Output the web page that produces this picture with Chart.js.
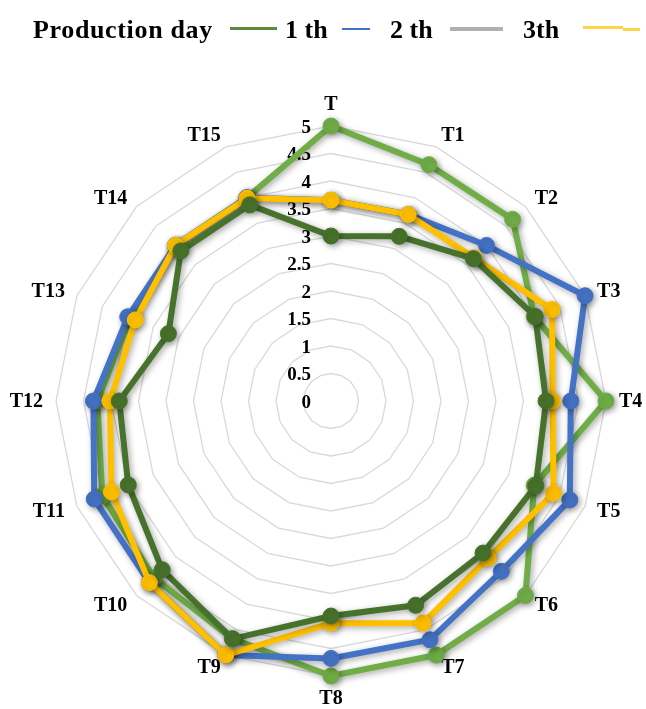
<!DOCTYPE html>
<html>
<head>
<meta charset="utf-8">
<script src="https://cdn.jsdelivr.net/npm/chart.js@4"></script>
<style>
  html, body { margin: 0; padding: 0; background: #fff; overflow: hidden; }
  #wrap { position: relative; width: 646px; height: 709px; }
  #chart { position: absolute; left: 0; top: 0; }
  .lg-text {
    position: absolute; top: 15px; line-height: 26px; white-space: nowrap;
    font: bold 26px "Liberation Serif", "Times New Roman", serif; color: #000;
  }
  .lg-sw { position: absolute; }
</style>
</head>
<body>
<div id="wrap">
  <canvas id="chart" width="646" height="709"></canvas>
  <span class="lg-text" style="left:33px; letter-spacing:0.65px">Production day</span>
  <span class="lg-sw" style="left:230px; top:27px; width:47px; height:3px; background:#5a8a3a"></span>
  <span class="lg-text" style="left:285px">1 th</span>
  <span class="lg-sw" style="left:342px; top:28px; width:28px; height:2px; background:#4472C4"></span>
  <span class="lg-text" style="left:390px">2 th</span>
  <span class="lg-sw" style="left:450px; top:27px; width:53px; height:4px; background:#b0b0b0"></span>
  <span class="lg-text" style="left:523px">3th</span>
  <span class="lg-sw" style="left:583px; top:26px; width:40px; height:3px; background:#FFD24C"></span>
  <span class="lg-sw" style="left:623px; top:28px; width:17px; height:3px; background:#FFD24C"></span>
</div>
<script>
// Radar categories
const categories = ['T', 'T1', 'T2', 'T3', 'T4', 'T5', 'T6', 'T7', 'T8', 'T9', 'T10', 'T11', 'T12', 'T13', 'T14', 'T15'];

// Radial tick labels
const tickLabels = ['0', '0.5', '1', '1.5', '2', '2.5', '3', '3.5', '4', '4.5', '5'];

// Series values, one per category
const productionDay = [5.0, 4.65, 4.67, 4.0, 5.0, 4.0, 5.0, 5.0, 5.0, 4.68, 4.55, 4.5, 4.25, 3.95, 4.0, 4.0];
const day1 = [3.0, 3.24, 3.66, 4.02, 3.91, 4.03, 3.91, 4.02, 3.91, 4.68, 4.34, 3.99, 3.85, 3.2, 3.86, 3.86];
const day2 = [3.65, 3.67, 4.0, 5.0, 4.36, 4.7, 4.38, 4.7, 4.68, 5.0, 4.67, 4.66, 4.32, 4.0, 4.0, 4.0];
const day3 = [3.65, 3.67, 3.68, 4.35, 4.03, 4.38, 4.04, 4.37, 4.04, 5.0, 4.67, 4.32, 4.02, 3.85, 4.0, 3.99];

const SERIF = '"Liberation Serif", "Times New Roman", serif';

function series(label, data, color) {
  return {
    label, data,
    borderColor: color,
    backgroundColor: color,
    pointBackgroundColor: color,
    pointBorderColor: color,
    borderWidth: 6,
    pointRadius: 8,
    pointBorderWidth: 1,
    pointHoverRadius: 8,
    fill: false,
    tension: 0
  };
}

// Soft drop shadow under each series' line and markers
const shadowPlugin = {
  id: 'seriesShadow',
  beforeDatasetDraw(chart) {
    const c = chart.ctx;
    c.save();
    c.shadowColor = 'rgba(0,0,0,0.35)';
    c.shadowBlur = 6;
    c.shadowOffsetX = 2;
    c.shadowOffsetY = 2;
  },
  afterDatasetDraw(chart) {
    chart.ctx.restore();
  }
};

// Value labels up the vertical axis and category labels round the rim,
// drawn beneath the series
const labelPlugin = {
  id: 'radarLabels',
  beforeDatasetsDraw(chart) {
    const s = chart.scales.r;
    const c = chart.ctx;
    c.save();
    c.fillStyle = '#000';

    c.font = 'bold 19px ' + SERIF;
    c.textAlign = 'right';
    c.textBaseline = 'middle';
    tickLabels.forEach(t => {
      const d = s.getDistanceFromCenterForValue(Number(t));
      c.fillText(t, s.xCenter - 20, s.yCenter - d + 2);
    });

    c.font = 'bold 20px ' + SERIF;
    categories.forEach((label, i) => {
      const p = s.getPointPosition(i, s.drawingArea + 13);
      const a = s.getIndexAngle(i);
      const sx = Math.sin(a), cy = Math.cos(a);
      let y = p.y + 1;
      if (Math.abs(sx) < 0.01) {
        c.textAlign = 'center';
        y += cy > 0 ? -9 : 9;
      } else {
        c.textAlign = sx > 0 ? 'left' : 'right';
      }
      c.textBaseline = 'middle';
      c.fillText(label, p.x, y);
    });
    c.restore();
  }
};

new Chart(document.getElementById('chart'), {
  type: 'radar',
  data: {
    labels: categories,
    datasets: [
      series('1 th', day1, '#47722B'),
      series('3th', day3, '#FFC000'),
      series('2 th', day2, '#4472C4'),
      series('Production day', productionDay, '#70AD47')
    ]
  },
  options: {
    responsive: false,
    devicePixelRatio: 1,
    animation: false,
    layout: { padding: { top: 126, left: 56, right: 40, bottom: 33 } },
    plugins: {
      legend: { display: false },
      tooltip: { enabled: false }
    },
    scales: {
      r: {
        min: 0,
        max: 5,
        ticks: { stepSize: 0.5, display: false },
        grid: { color: '#d9d9d9', lineWidth: 1.3 },
        angleLines: { display: false },
        pointLabels: { display: false }
      }
    }
  },
  plugins: [shadowPlugin, labelPlugin]
});
</script>
</body>
</html>
